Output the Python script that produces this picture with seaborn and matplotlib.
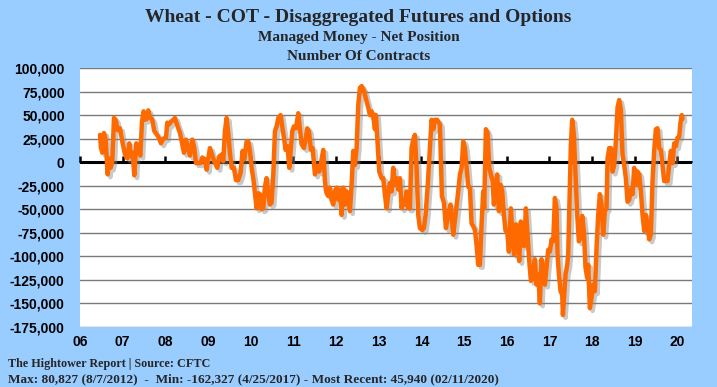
import matplotlib
matplotlib.use("Agg")
import matplotlib.pyplot as plt
import matplotlib.patheffects as pe
from matplotlib.ticker import FuncFormatter
import seaborn as sns
import pandas as pd

# Weekly-ish readings of managed money net position (decimal year, contracts)
dates = [
    2006.468, 2006.492, 2006.523, 2006.562, 2006.601, 2006.648, 2006.679, 2006.718, 2006.757, 2006.796,
    2006.835, 2006.882, 2006.937, 2006.991, 2007.054, 2007.108, 2007.155, 2007.194, 2007.233, 2007.272,
    2007.319, 2007.366, 2007.413, 2007.452, 2007.491, 2007.522, 2007.569, 2007.600, 2007.639, 2007.694,
    2007.741, 2007.835, 2007.897, 2007.952, 2008.014, 2008.045, 2008.084, 2008.131, 2008.186, 2008.225,
    2008.272, 2008.342, 2008.397, 2008.436, 2008.483, 2008.522, 2008.576, 2008.631, 2008.678, 2008.717,
    2008.772, 2008.826, 2008.865, 2008.928, 2008.967, 2009.006, 2009.045, 2009.107, 2009.162, 2009.217,
    2009.264, 2009.318, 2009.357, 2009.396, 2009.435, 2009.474, 2009.513, 2009.553, 2009.607, 2009.654,
    2009.709, 2009.763, 2009.810, 2009.849, 2009.904, 2009.943, 2009.982, 2010.021, 2010.060, 2010.099,
    2010.138, 2010.185, 2010.216, 2010.255, 2010.294, 2010.333, 2010.372, 2010.411, 2010.450, 2010.489,
    2010.529, 2010.568, 2010.607, 2010.646, 2010.700, 2010.739, 2010.778, 2010.817, 2010.864, 2010.903,
    2010.942, 2010.974, 2011.013, 2011.059, 2011.114, 2011.153, 2011.192, 2011.247, 2011.286, 2011.325,
    2011.364, 2011.411, 2011.450, 2011.505, 2011.559, 2011.606, 2011.661, 2011.700, 2011.739, 2011.762,
    2011.778, 2011.817, 2011.856, 2011.895, 2011.934, 2011.973, 2012.012, 2012.051, 2012.090, 2012.129,
    2012.168, 2012.207, 2012.246, 2012.286, 2012.325, 2012.364, 2012.403, 2012.442, 2012.481, 2012.520,
    2012.559, 2012.600, 2012.660, 2012.707, 2012.754, 2012.793, 2012.832, 2012.871, 2012.910, 2012.934,
    2012.973, 2013.012, 2013.066, 2013.105, 2013.144, 2013.183, 2013.223, 2013.262, 2013.301, 2013.340,
    2013.379, 2013.418, 2013.457, 2013.496, 2013.535, 2013.574, 2013.613, 2013.652, 2013.691, 2013.730,
    2013.769, 2013.808, 2013.847, 2013.886, 2013.925, 2013.964, 2014.019, 2014.058, 2014.097, 2014.144,
    2014.199, 2014.238, 2014.277, 2014.316, 2014.370, 2014.433, 2014.480, 2014.527, 2014.574, 2014.628,
    2014.683, 2014.745, 2014.800, 2014.862, 2014.902, 2014.941, 2014.980, 2015.019, 2015.058, 2015.097,
    2015.136, 2015.175, 2015.214, 2015.253, 2015.292, 2015.331, 2015.370, 2015.409, 2015.448, 2015.471,
    2015.510, 2015.550, 2015.589, 2015.628, 2015.667, 2015.698, 2015.737, 2015.776, 2015.815, 2015.854,
    2015.893, 2015.932, 2015.971, 2016.010, 2016.049, 2016.096, 2016.135, 2016.174, 2016.213, 2016.252,
    2016.291, 2016.330, 2016.369, 2016.408, 2016.447, 2016.486, 2016.526, 2016.565, 2016.604, 2016.658,
    2016.697, 2016.736, 2016.775, 2016.814, 2016.854, 2016.893, 2016.932, 2016.971, 2017.010, 2017.049,
    2017.088, 2017.127, 2017.166, 2017.189, 2017.221, 2017.260, 2017.299, 2017.315, 2017.377, 2017.416,
    2017.439, 2017.478, 2017.502, 2017.533, 2017.572, 2017.611, 2017.650, 2017.689, 2017.728, 2017.767,
    2017.806, 2017.845, 2017.884, 2017.908, 2017.947, 2017.986, 2018.025, 2018.064, 2018.103, 2018.142,
    2018.181, 2018.220, 2018.259, 2018.298, 2018.337, 2018.361, 2018.400, 2018.439, 2018.478, 2018.517,
    2018.556, 2018.595, 2018.634, 2018.673, 2018.712, 2018.751, 2018.790, 2018.829, 2018.868, 2018.907,
    2018.946, 2018.985, 2019.024, 2019.063, 2019.103, 2019.142, 2019.181, 2019.220, 2019.259, 2019.298,
    2019.337, 2019.376, 2019.415, 2019.454, 2019.493, 2019.532, 2019.571, 2019.610, 2019.649, 2019.688,
    2019.727, 2019.766, 2019.805, 2019.845, 2019.884, 2019.923, 2019.962, 2020.001, 2020.040, 2020.070,
    2020.100, 2020.115,
]
net_position = [
    29000, 15000, 10000, 31000, 24000, -13000, 4000, -6000, 1000, 47000,
    45000, 34000, 36000, 22000, 8000, 4000, 20000, 6000, 10000, -14000,
    20000, 17000, 7000, 43000, 54000, 45000, 46000, 55000, 48000, 45000,
    33000, 27000, 20000, 25000, 26000, 42000, 40000, 43000, 45000, 47000,
    40000, 31000, 19000, 10000, 24000, 17000, 7000, 24000, 15000, -1000,
    -1000, -1000, 5000, 3000, -8000, 4000, 15000, 6000, -1000, -6000,
    6000, 8000, 1000, 33000, 47000, 31000, 10000, -6000, -6000, -19000,
    -19000, -11000, 12000, 3000, 22000, 22000, 12000, -6000, -17000, -33000,
    -49000, -33000, -34000, -50000, -49000, -26000, -17000, -34000, -45000, -43000,
    -13000, 33000, 38000, 47000, 50000, 38000, 26000, 13000, 17000, -6000,
    15000, 33000, 38000, 36000, 52000, 36000, 19000, 15000, 24000, 36000,
    33000, 13000, 15000, -13000, -4000, -10000, 3000, 13000, -20000, -30000,
    -33000, -36000, -27000, -40000, -45000, -31000, -27000, -40000, -29000, -56000,
    -27000, -45000, -31000, -42000, -52000, -24000, 12000, -3000, 15000, 61000,
    79000, 80827, 75000, 66000, 58000, 50000, 54000, 49000, 35000, 50000,
    19000, -10000, -17000, -17000, -34000, -49000, -34000, -22000, -31000, -6000,
    -24000, -17000, -29000, -17000, -49000, -40000, -45000, -31000, -49000, -49000,
    15000, 24000, 29000, -6000, -56000, -70000, -72000, -70000, -56000, -27000,
    15000, 45000, 35000, 45000, 45000, 40000, -36000, -43000, -70000, -56000,
    -45000, -77000, -56000, -31000, -13000, -6000, 22000, 15000, -6000, -26000,
    -27000, -65000, -68000, -72000, -88000, -109000, -109000, -66000, -31000, -49000,
    35000, 31000, -6000, -13000, -20000, -45000, -24000, -13000, -52000, -24000,
    -31000, -56000, -73000, -73000, -95000, -49000, -80000, -98000, -66000, -68000,
    -105000, -63000, -88000, -89000, -49000, -77000, -105000, -126000, -123000, -103000,
    -130000, -119000, -150000, -103000, -112000, -130000, -111000, -93000, -95000, -82000,
    -84000, -38000, -49000, -98000, -119000, -137000, -141000, -162327, -119000, -109000,
    -98000, -24000, 19000, 45000, 29000, -13000, -56000, -84000, -80000, -57000,
    -73000, -112000, -123000, -109000, -155000, -144000, -130000, -137000, -91000, -56000,
    -34000, -45000, -77000, -52000, -49000, 4000, 15000, 15000, -10000, -3000,
    22000, 58000, 66000, 56000, 8000, -3000, -17000, -42000, -40000, -29000,
    -34000, -6000, -24000, -10000, -13000, -31000, -56000, -73000, -56000, -66000,
    -82000, -77000, -20000, 12000, 35000, 36000, 15000, 13000, -3000, -20000,
    -20000, -20000, -3000, 12000, -1000, 20000, 17000, 26000, 27000, 42000,
    50000, 45940,
]

year_ticks = list(range(2006, 2021))
year_labels = [f"{y % 100:02d}" for y in year_ticks]
y_ticks = list(range(-175000, 100001, 25000))

title = "Wheat - COT - Disaggregated Futures and Options"
subtitle1 = "Managed Money - Net Position"
subtitle2 = "Number Of Contracts"
footer1 = "The Hightower Report | Source: CFTC"
footer2 = ("Max: 80,827 (8/7/2012)  -  Min: -162,327 (4/25/2017) - "
           "Most Recent: 45,940 (02/11/2020)")

bg = "#99CCFF"
orange = "#FF6A00"

sns.set_theme(style="white")
plt.rcParams["font.family"] = ["Liberation Sans", "DejaVu Sans"]

df = pd.DataFrame({"date": dates, "net": net_position})

fig = plt.figure(figsize=(7.17, 3.87), dpi=100, facecolor=bg)
ax = fig.add_axes([80 / 717, 1 - 327 / 387, 612 / 717, 259 / 387])
ax.set_facecolor("white")

# horizontal gridlines
for v in y_ticks:
    ax.axhline(v, color="#7a7a7a", lw=1.0, zorder=1)
ax.axhline(0, color="black", lw=2.2, zorder=2)

sns.lineplot(data=df, x="date", y="net", ax=ax, color=orange, lw=3.2, zorder=4)
line = ax.lines[-1]
line.set_path_effects([pe.SimpleLineShadow(offset=(2, -2), shadow_color="#888888", alpha=0.45),
                       pe.Normal()])

ax.set_xlim(2006.0, 2020.34)
ax.set_ylim(-175000, 100000)
ax.set_yticks(y_ticks)
ax.yaxis.set_major_formatter(FuncFormatter(lambda v, p: f"{v:,.0f}"))
ax.set_xticks(year_ticks)
ax.set_xticklabels(year_labels)
ax.set_xlabel("")
ax.set_ylabel("")
for s in ax.spines.values():
    s.set_visible(False)
ax.tick_params(axis="both", length=0, labelsize=10, colors="black")
ax.tick_params(axis="x", pad=6)
ax.tick_params(axis="y", pad=11)
for lab in ax.get_xticklabels() + ax.get_yticklabels():
    lab.set_fontweight("bold")

# tick marks hanging from the zero line
zero_pos = 175000 / 275000
sec = ax.secondary_xaxis(zero_pos)
sec.set_xticks(year_ticks)
sec.tick_params(axis="x", direction="out", length=4, width=1.8, color="black", labelbottom=False)
sec.spines["bottom"].set_visible(False)
sec.set_xticklabels([])

serif = ["Liberation Serif", "DejaVu Serif"]
fig.text(0.5, 1 - 18 / 387, title, ha="center", va="center", fontsize=14,
         fontweight="bold", family=serif)
fig.text(0.5, 1 - 38 / 387, subtitle1, ha="center", va="center", fontsize=11,
         fontweight="bold", family=serif)
fig.text(0.5, 1 - 56 / 387, subtitle2, ha="center", va="center", fontsize=11,
         fontweight="bold", family=serif)
fig.text(8 / 717, 1 - 364 / 387, footer1, ha="left", va="center", fontsize=8.7,
         fontweight="bold", family=serif)
fig.text(8 / 717, 1 - 379 / 387, footer2, ha="left", va="center", fontsize=9.5,
         fontweight="bold", family=serif)

fig.savefig("out.png", dpi=100, facecolor=bg)
